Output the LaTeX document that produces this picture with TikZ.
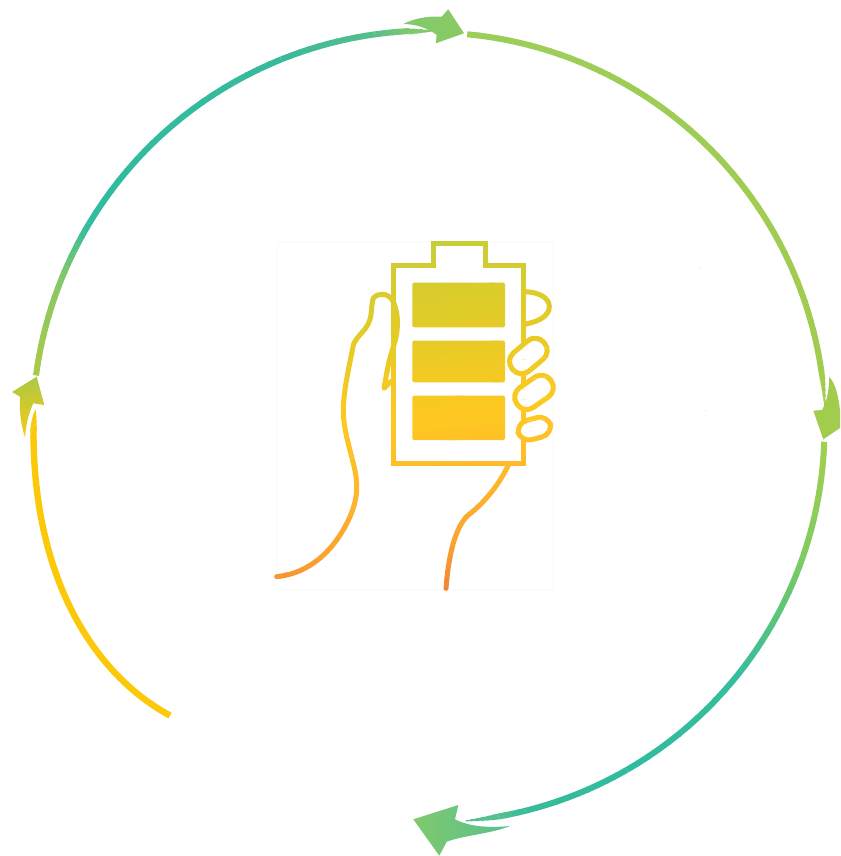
\documentclass[tikz,border=0pt]{standalone}
\usepackage{tikz}
\definecolor{ya}{HTML}{FBC90A}
\definecolor{yb}{HTML}{F8CA12}
\definecolor{b0}{HTML}{ABC946}
\definecolor{b1}{HTML}{85C868}
\definecolor{b2}{HTML}{30BC9F}
\definecolor{b3}{HTML}{36BA9C}
\definecolor{b4}{HTML}{57BF8A}
\definecolor{b5}{HTML}{80C96C}
\definecolor{b6}{HTML}{8ACB62}
\definecolor{c0}{HTML}{9BCE5A}
\definecolor{c1}{HTML}{A2CC4E}
\definecolor{d0}{HTML}{A3CF4F}
\definecolor{d1}{HTML}{7FCB60}
\definecolor{d2}{HTML}{36BD9C}
\definecolor{d3}{HTML}{30BC9F}
\definecolor{d4}{HTML}{38BB9A}
\definecolor{d5}{HTML}{56C08F}
\definecolor{h0}{HTML}{C2CD3E}
\definecolor{h1}{HTML}{D8CC2C}
\definecolor{h2}{HTML}{ECCB24}
\definecolor{h3}{HTML}{FFC820}
\definecolor{h4}{HTML}{FDB62E}
\definecolor{h5}{HTML}{F9A130}
\definecolor{h6}{HTML}{EF7A35}
% one arc section: start angle, end angle, colours, widths, steps, radius
\newcommand{\arcpiece}[8]{%
  \foreach \k in {1,...,#7}{%
    \pgfmathsetmacro{\angA}{#1+(#2-#1)*(\k-1)/#7}%
    \pgfmathsetmacro{\angB}{#1+(#2-#1)*\k/#7+(#2>#1?0.15:-0.15)*(\k<#7)}%
    \pgfmathtruncatemacro{\pct}{100*(\k-0.5)/#7}%
    \pgfmathsetmacro{\wid}{#5+(#6-#5)*(\k-0.5)/#7}%
    \draw[line width=\wid pt,color=#4!\pct!#3]
      ({430+#8*cos(\angA)},{428-#8*sin(\angA)}) -- ({430+#8*cos(\angB)},{428-#8*sin(\angB)});
  }%
}
\tikzset{
  stroke/.style={line width=5pt,line join=miter},
  finger/.style={line width=5pt,fill=white,rounded corners=11.5pt}
}
% artwork in 3x zoom coordinates
\newcommand{\handart}{%
  \draw[stroke] (400,105)--(520,105)--(520,40)--(675,40)--(675,105)--(790,105)--(790,700)--(400,700)--cycle;
  \fill[rounded corners=2pt] (457,158) rectangle (735,292);
  \fill[rounded corners=2pt] (457,332) rectangle (735,457);
  \fill[rounded corners=2pt] (457,497) rectangle (735,630);
  \draw[stroke,line cap=round,line join=round] (50,1040) .. controls (150,1030) and (225,960) .. (270,860)
    .. controls (295,800) and (295,760) .. (280,700)
    .. controls (262,630) and (250,590) .. (250,540)
    .. controls (250,480) and (270,400) .. (280,345)
    .. controls (290,315) and (325,300) .. (332,260)
    .. controls (336,235) and (335,215) .. (340,205)
    .. controls (350,190) and (385,185) .. (400,215)
    .. controls (418,255) and (415,310) .. (400,350)
    .. controls (385,395) and (380,430) .. (372,475) -- (392,455);
  \draw[stroke,line cap=round] (745,705) .. controls (715,770) and (665,825) .. (625,855)
    .. controls (585,890) and (565,980) .. (558,1075);
  \draw[stroke] (795,185) .. controls (840,187) and (868,205) .. (868,230)
    .. controls (868,258) and (835,275) .. (797,282);
  \draw[finger,rotate around={40:(805,378)}] (743,342) rectangle (867,414);
  \draw[finger,rotate around={35:(822,487)}] (760,451) rectangle (884,523);
  \draw[finger,rotate around={15:(823,596)}] (773,566) rectangle (873,626);
}
\newcommand{\handband}[4]{%
  \foreach \k in {1,...,6}{%
    \pgfmathsetmacro{\ta}{#1+(#2-#1)*(\k-1)/6}%
    \pgfmathsetmacro{\tb}{#1+(#2-#1)*\k/6+0.4}%
    \pgfmathtruncatemacro{\pct}{100*(\k-0.5)/6}%
    \begin{scope}
      \clip (270,\ta+14) -- (560,\ta-14) -- (560,\tb-14) -- (270,\tb+14) -- cycle;
      \begin{scope}[shift={(260,230)},x=0.33333pt,y=-0.33333pt,color=#4!\pct!#3]
        \handart
      \end{scope}
    \end{scope}
  }%
}
\begin{document}
\begin{tikzpicture}[x=1pt,y=-1pt]
\useasboundingbox (0,0) rectangle (840,856);
\clip (0,0) rectangle (840,856);
\fill[white] (0,0) rectangle (840,856);
% faint image frame
\draw[color=black!3,line width=.7pt,rounded corners=2pt] (277,242) rectangle (553,590);
\fill[black!18] (700.5,268) circle (.5pt);
\fill[black!18] (706,410.5) circle (.5pt);
% hand and battery
\handband{225}{290}{h0}{h1}
\handband{290}{360}{h1}{h2}
\handband{360}{420}{h2}{h3}
\handband{420}{490}{h3}{h4}
\handband{490}{550}{h4}{h5}
\handband{550}{610}{h5}{h6}
% yellow arc
\draw[ya,line width=6.4pt] (170,715.5) .. controls (95,675) and (33,580) .. (33.5,430);
\fill[yb] (30.2,431) .. controls (31,422) and (33,414) .. (35.5,409) .. controls (36.5,416) and (36.8,424) .. (36.8,431) -- cycle;
% top-left arc
\arcpiece{172.4}{158}{b0}{b1}{6}{6}{10}{397.5}
\arcpiece{158}{149}{b1}{b2}{6}{6}{8}{397.5}
\arcpiece{149}{112}{b2}{b3}{6}{6}{20}{397.5}
\arcpiece{112}{98}{b3}{b4}{6}{6}{10}{397.5}
\arcpiece{98}{93}{b4}{b5}{6}{6}{4}{397.5}
\arcpiece{93}{89.5}{b5}{b5}{6}{.8}{6}{397}
% right arc
\arcpiece{84.6}{8}{c0}{c1}{6}{6}{50}{395.5}
\arcpiece{8}{3}{c1}{c1}{6}{.8}{6}{395.5}
% bottom-right arc
\arcpiece{-2}{-19}{d0}{d1}{6}{6}{12}{394.5}
\arcpiece{-19}{-38}{d1}{d2}{6}{6}{14}{394.5}
\arcpiece{-38}{-60}{d2}{d3}{6}{6}{12}{394.5}
\arcpiece{-60}{-76}{d3}{d4}{6}{6}{10}{394.5}
\arcpiece{-76}{-80}{d4}{d5}{6}{6}{4}{394.5}
\arcpiece{-80}{-84.8}{d5}{d5}{6}{.8}{6}{394.5}
% arrowheads
\shade[top color=b0,bottom color=yb]
  (12,392) -- (36.7,376.7) -- (44.3,405) -- (33.3,403.3)
  .. controls (28,415) and (26,425) .. (25,437.3)
  .. controls (21,425) and (19,410) .. (20,396.7) -- cycle;
\shade[left color=b5,right color=b6]
  (403.3,24) .. controls (415,18) and (428,16) .. (441.7,16.7)
  -- (448.3,9.3) -- (464,33.3) -- (435.7,43.3) -- (436.7,35)
  .. controls (428,28) and (415,24) .. (403.3,24) -- cycle;
\fill[c1]
  (829.3,376.7) .. controls (836,385) and (838,395) .. (840,410)
  -- (840,428) -- (823.3,439.3) -- (813.3,410.7) -- (822,410)
  .. controls (826,403) and (829,393) .. (829.3,376.7) -- cycle;
\shade[left color=b5,right color=d5]
  (413.3,819.3) -- (458.3,805) -- (455,819.3)
  .. controls (470,827) and (490,828) .. (510,826)
  .. controls (490,834) and (465,835) .. (446.7,841.7)
  -- (439.3,855.7) -- cycle;
\end{tikzpicture}
\end{document}
